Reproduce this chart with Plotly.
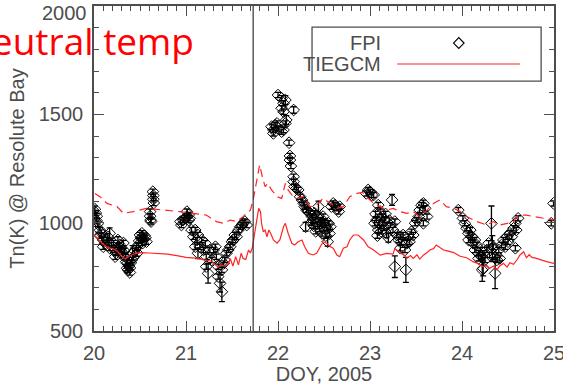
import plotly.graph_objects as go

# ---------------- data ----------------
# FPI neutral temperature observations (DOY 2005, Tn [K], 1-sigma error [K])
fpi_doy = [
    20.01, 20.02, 20.03, 20.03, 20.04, 20.065, 20.065, 20.08, 20.10, 20.10, 20.12, 20.14, 20.15, 20.17, 20.17,
    20.19, 20.21, 20.22, 20.23, 20.24, 20.26, 20.27, 20.28, 20.29, 20.30, 20.31, 20.32, 20.33, 20.34, 20.35,
    20.36, 20.36, 20.37, 20.38, 20.39, 20.39, 20.40, 20.41, 20.42, 20.43, 20.44, 20.46, 20.47, 20.48, 20.49,
    20.50, 20.51, 20.52, 20.53, 20.54, 20.55, 20.57, 20.56,
    20.64, 20.645, 20.645, 20.65, 20.61, 20.61, 20.615, 20.62,
    20.94, 20.95, 20.97, 20.99, 21.01, 21.01, 21.03, 21.03, 21.04,
    21.06, 21.08, 21.10, 21.12, 21.13, 21.10, 21.13, 21.15, 21.17, 21.19, 21.21, 21.22, 21.22, 21.24, 21.26,
    21.28, 21.30, 21.32, 21.33, 21.35, 21.35, 21.37, 21.39, 21.39, 21.41, 21.42, 21.44, 21.46, 21.48, 21.50,
    21.51, 21.53, 21.55, 21.57, 21.59, 21.61, 21.62, 21.64, 21.66,
    21.93, 21.95, 21.97, 21.95, 21.99, 22.00, 22.04, 22.06, 22.00, 22.04, 22.06, 22.08, 22.04, 22.06, 22.09,
    22.08, 22.17, 22.12, 22.13, 22.13, 22.14, 22.17, 22.17, 22.18, 22.20, 22.22, 22.24, 22.26, 22.28, 22.29,
    22.31, 22.33, 22.30, 22.35, 22.37, 22.38, 22.40, 22.42, 22.44, 22.46, 22.47, 22.49, 22.51, 22.53, 22.55,
    22.54, 22.57, 22.58, 22.60, 22.62, 22.64, 22.66, 22.67, 22.36, 22.39, 22.41, 22.43, 22.45, 22.48, 22.50,
    22.52, 22.56,
    22.96, 22.98, 23.00, 23.02, 23.04, 23.09, 23.11, 23.07, 23.09, 23.05, 23.13, 23.14, 23.16, 23.18, 23.22,
    23.24, 23.25, 23.27, 23.29, 23.31, 23.33, 23.33, 23.34, 23.36, 23.38, 23.40, 23.42, 23.43, 23.45, 23.47,
    23.49, 23.51, 23.53, 23.54, 23.56, 23.58, 23.60, 23.62, 23.58, 23.27, 23.39, 23.06, 23.08, 23.10, 23.12,
    23.15, 23.17, 23.20, 23.21,
    23.96, 24.01, 24.03, 24.05, 24.07, 24.09, 24.07, 24.11, 24.12, 24.14, 24.14, 24.16, 24.18, 24.20, 24.18,
    24.21, 24.23, 24.25, 24.23, 24.27, 24.29, 24.30, 24.32, 24.33, 24.34, 24.36, 24.36, 24.38, 24.40, 24.41,
    24.43, 24.45, 24.47, 24.49, 24.50, 24.52, 24.54, 24.56, 24.58, 24.59, 24.61, 24.58, 24.22,
    24.97, 24.995,
]
fpi_tn = [
    1062, 1045, 1030, 1008, 995, 965, 940, 952, 920, 889, 905, 920, 935, 951, 883,
    897, 906, 875, 843, 860, 920, 890, 897, 880, 866, 850, 906, 870, 843, 820,
    812, 790, 782, 800, 791, 770, 815, 828, 859, 840, 870, 883, 860, 897, 915,
    943, 930, 951, 906, 925, 940, 912, 930,
    1143, 1125, 1108, 1091, 1051, 1030, 1012, 1005,
    1005, 989, 1012, 1020, 1028, 1051, 1012, 1035, 1020,
    966, 935, 966, 920, 943, 889, 859, 889, 920, 874, 905, 843, 797, 766, 874,
    828, 874, 889, 843, 797, 751, 720, 681, 782, 812, 828, 859, 874, 889, 912,
    920, 943, 935, 966, 981, 989, 997, 1005, 989,
    1443, 1428, 1451, 1412, 1458, 1435, 1420, 1428, 1589, 1574, 1551, 1566, 1528, 1512, 1474,
    1458, 1520, 1369, 1308, 1289, 1261, 1212, 1189, 1166, 1158, 1151, 1120, 1105, 1089, 1074,
    1058, 1051, 981, 1043, 1028, 1012, 1043, 1028, 1074, 1012, 997, 1028, 989, 974, 997,
    912, 981, 1074, 1089, 1081, 1066, 1051, 1074, 1000, 985, 960, 995, 970, 950, 1005,
    940, 950,
    1135, 1151, 1143, 1128, 1128, 1081, 1051, 1012, 966, 997, 1028, 997, 1012, 951, 989,
    1105, 966, 1005, 943, 920, 935, 882, 912, 943, 874, 905, 935, 912, 958, 943,
    997, 1012, 1028, 1058, 1081, 1089, 1066, 1028, 997, 797, 782, 1040, 940, 1000, 960,
    975, 1040, 930, 1010,
    1058, 1020, 997, 974, 951, 966, 920, 935, 905, 920, 874, 897, 859, 874, 835,
    843, 859, 828, 789, 874, 905, 851, 997, 880, 889, 843, 766, 828, 874, 835,
    897, 920, 889, 935, 912, 951, 935, 974, 997, 966, 1020, 882, 782,
    997, 1089,
]
fpi_err = [
    15, 12, 12, 14, 12, 12, 12, 15, 12, 12, 12, 12, 15, 25, 12,
    12, 12, 12, 12, 12, 15, 12, 12, 12, 12, 12, 12, 12, 12, 12,
    12, 12, 12, 12, 12, 12, 12, 12, 35, 12, 12, 12, 15, 12, 12,
    12, 12, 12, 12, 12, 12, 12, 12,
    12, 12, 12, 12, 12, 12, 12, 12,
    12, 12, 12, 12, 12, 12, 12, 12, 12,
    12, 12, 12, 12, 12, 12, 25, 12, 12, 12, 12, 12, 12, 45, 12,
    12, 12, 12, 12, 12, 12, 40, 45, 12, 12, 12, 12, 12, 12, 12,
    12, 12, 12, 12, 12, 12, 12, 12, 12,
    12, 12, 12, 12, 12, 12, 12, 12, 12, 12, 12, 20, 12, 12, 20,
    12, 15, 12, 12, 12, 12, 12, 12, 12, 12, 12, 12, 12, 12, 12,
    12, 12, 20, 12, 12, 12, 12, 12, 25, 12, 12, 12, 12, 12, 12,
    20, 12, 12, 12, 12, 12, 12, 12, 12, 12, 12, 12, 12, 12, 12,
    12, 12,
    12, 12, 12, 12, 12, 12, 12, 12, 12, 12, 12, 12, 12, 20, 12,
    25, 12, 12, 12, 12, 12, 12, 12, 12, 12, 12, 12, 12, 12, 12,
    12, 12, 12, 12, 12, 15, 12, 12, 12, 50, 58, 12, 12, 12, 12,
    12, 12, 20, 12,
    12, 12, 12, 12, 12, 12, 12, 12, 12, 12, 12, 12, 12, 12, 12,
    12, 12, 12, 35, 12, 12, 12, 80, 60, 12, 12, 70, 12, 12, 12,
    12, 12, 12, 12, 12, 12, 12, 12, 12, 12, 12, 12, 53,
    12, 12,
]

# TIEGCM model, solid curve
tie_solid_doy = [
    20.00, 20.05, 20.10, 20.15, 20.20, 20.25, 20.30, 20.34, 20.38, 20.43, 20.50, 20.60, 20.70, 20.80, 20.90,
    21.00, 21.10, 21.20, 21.28, 21.32, 21.35, 21.38, 21.42, 21.46, 21.48, 21.51, 21.54, 21.57, 21.60, 21.62,
    21.65, 21.68, 21.70, 21.72, 21.74, 21.76, 21.79, 21.81, 21.82, 21.84, 21.86, 21.88, 21.90, 21.92, 21.95,
    21.99, 22.02, 22.06, 22.08, 22.11, 22.15, 22.18, 22.22, 22.26, 22.29, 22.33, 22.38, 22.42, 22.46, 22.49,
    22.53, 22.57, 22.60, 22.64, 22.67, 22.71, 22.75, 22.78, 22.82, 22.87, 22.93, 22.98, 23.04, 23.11, 23.18,
    23.25, 23.27, 23.33, 23.37, 23.40, 23.44, 23.47, 23.51, 23.54, 23.58, 23.62, 23.65, 23.69, 23.72, 23.76,
    23.80, 23.84, 23.91, 23.98, 24.05, 24.12, 24.17, 24.23, 24.27, 24.30, 24.34, 24.38, 24.41, 24.45, 24.49,
    24.52, 24.56, 24.60, 24.63, 24.67, 24.70, 24.73, 24.76, 24.80, 24.85, 24.92, 25.00,
]
tie_solid_tn = [
    945, 920, 900, 885, 880, 870, 845, 832, 845, 855, 862, 860, 858, 855, 848,
    840, 836, 830, 822, 805, 795, 805, 800, 808, 835, 800, 843, 805, 859, 835,
    830, 874, 860, 882, 935, 981, 1066, 1051, 1000, 958, 966, 935, 966, 951, 920,
    905, 920, 981, 997, 951, 905, 897, 912, 920, 889, 859, 851, 859, 889, 912,
    905, 889, 882, 851, 843, 882, 889, 920, 943, 943, 920, 889, 874, 850, 858,
    855, 880, 862, 850, 835, 848, 835, 852, 832, 850, 862, 874, 880, 897, 885,
    874, 870, 862, 845, 838, 820, 812, 797, 803, 789, 800, 782, 800, 812, 795,
    815, 808, 830, 851, 866, 838, 852, 840, 836, 828, 820, 812,
]

# TIEGCM model, dashed curve
tie_dash_doy = [
    20.01, 20.065, 20.14, 20.25, 20.32, 20.43, 20.57, 20.79, 20.93, 21.08, 21.22, 21.33, 21.41, 21.48, 21.55,
    21.62, 21.70, 21.73, 21.77, 21.80, 21.83, 21.86, 21.89, 21.93, 21.99, 22.04, 22.08, 22.11, 22.15, 22.20,
    22.28, 22.35, 22.42, 22.49, 22.57, 22.64, 22.71, 22.78, 22.86, 22.92, 22.96, 23.04, 23.11, 23.18, 23.25,
    23.33, 23.40, 23.47, 23.54, 23.62, 23.69, 23.76, 23.83, 23.91, 23.98, 24.05, 24.16, 24.27, 24.34, 24.41,
    24.49, 24.56, 24.61, 24.70, 24.78, 24.89, 25.00,
]
tie_dash_tn = [
    1135, 1120, 1089, 1074, 1043, 1051, 1066, 1058, 1051, 1043, 1035, 1005, 997, 1012, 1005,
    1028, 1058, 1105, 1197, 1266, 1212, 1166, 1181, 1151, 1120, 1112, 1181, 1151, 1128, 1112,
    1120, 1074, 1081, 1112, 1089, 1066, 1074, 1120, 1135, 1140, 1120, 1089, 1074, 1058, 1066,
    1051, 1043, 1051, 1028, 1058, 1089, 1105, 1074, 1066, 1051, 1028, 1005, 989, 1005, 989,
    997, 1005, 1035, 1035, 1028, 1020, 1012,
]

storm_doy = 21.73
x_ticks = [20, 21, 22, 23, 24, 25]
y_ticks = [500, 1000, 1500, 2000]
y_top_label = "2000"  # drawn slightly below its tick so it is not cut at the page top

# ---------------- styling ----------------
GRAY = "#4d4d4d"
RED = "#ff2424"
FONT = "Liberation Sans"

fig = go.Figure()

fig.add_trace(go.Scatter(
    x=fpi_doy, y=fpi_tn, mode="markers", name="FPI",
    marker=dict(symbol="diamond-open", size=9, color="black", line=dict(width=1, color="black")),
    error_y=dict(type="data", array=fpi_err, visible=True, color="black", thickness=1.3, width=3),
))
fig.add_trace(go.Scatter(
    x=tie_dash_doy, y=tie_dash_tn, mode="lines", name="TIEGCM dashed",
    line=dict(color=RED, width=1.2, dash="8px,5px"),
))
fig.add_trace(go.Scatter(
    x=tie_solid_doy, y=tie_solid_tn, mode="lines", name="TIEGCM",
    line=dict(color=RED, width=1.2),
))

axis_common = dict(
    showgrid=False, zeroline=False, showline=True, linecolor=GRAY, linewidth=1.5,
    mirror="ticks", ticks="inside", ticklen=10, tickwidth=1.2, tickcolor=GRAY,
    tickfont=dict(family=FONT, size=20, color=GRAY), automargin=False,
    ticklabeloverflow="allow",
)

fig.update_xaxes(
    range=[20, 25], tickvals=x_ticks, ticktext=[str(v) for v in x_ticks],
    minor=dict(ticks="inside", ticklen=5, dtick=0.1, tick0=20, tickcolor=GRAY, tickwidth=1.2),
    title=dict(text="DOY, 2005", font=dict(family=FONT, size=20, color=GRAY), standoff=6),
    ticklabelstandoff=3,
    **axis_common,
)
fig.update_yaxes(
    range=[500, 2000], tickvals=y_ticks,
    ticktext=[str(v) if str(v) != y_top_label else "" for v in y_ticks],
    minor=dict(ticks="inside", ticklen=5, dtick=100, tick0=500, tickcolor=GRAY, tickwidth=1.2),
    title=dict(text="Tn(K) @ Resolute Bay", font=dict(family=FONT, size=20, color=GRAY), standoff=9),
    ticklabelstandoff=5,
    **axis_common,
)
fig.add_annotation(xref="paper", yref="y", x=0, y=y_ticks[-1], text=y_top_label, showarrow=False,
                   xanchor="right", yanchor="middle", xshift=-5, yshift=-7,
                   font=dict(family=FONT, size=20, color=GRAY))

# vertical event line
fig.add_shape(type="line", xref="x", yref="paper", x0=storm_doy, x1=storm_doy, y0=0, y1=1,
              line=dict(color="#333333", width=1.2))

# manual legend (text left of symbol, as in original)
fig.add_shape(type="rect", xref="paper", yref="paper", x0=0.474, x1=0.972, y0=0.769, y1=0.935,
              line=dict(color=GRAY, width=1.3), fillcolor="white", layer="above")
fig.add_annotation(xref="paper", yref="paper", x=0.628, y=0.886, text="FPI", showarrow=False,
                   xanchor="right", yanchor="middle", font=dict(family=FONT, size=20, color=GRAY))
fig.add_annotation(xref="paper", yref="paper", x=0.628, y=0.8215, text="TIEGCM", showarrow=False,
                   xanchor="right", yanchor="middle", font=dict(family=FONT, size=20, color=GRAY))
dx, dy, cx, cy = 0.0115, 0.0165, 0.793, 0.886
fig.add_shape(type="path", xref="paper", yref="paper",
              path=f"M {cx-dx},{cy} L {cx},{cy+dy} L {cx+dx},{cy} L {cx},{cy-dy} Z",
              line=dict(color="black", width=1.2))
fig.add_shape(type="line", xref="paper", yref="paper", x0=0.659, x1=0.926, y0=0.8215, y1=0.8215,
              line=dict(color=RED, width=1.2))

# title text (partially cut off at the left edge, as in original)
fig.add_annotation(xref="paper", yref="paper", x=0.222, y=0.893, text="Neutral temp", showarrow=False,
                   xanchor="right", yanchor="middle", font=dict(family="Open Sans", size=37, color="#ff0000"))

fig.update_layout(
    width=563, height=385, margin=dict(l=94, r=9, t=6, b=54),
    plot_bgcolor="white", paper_bgcolor="white", showlegend=False,
)

fig.write_html("out.html")
